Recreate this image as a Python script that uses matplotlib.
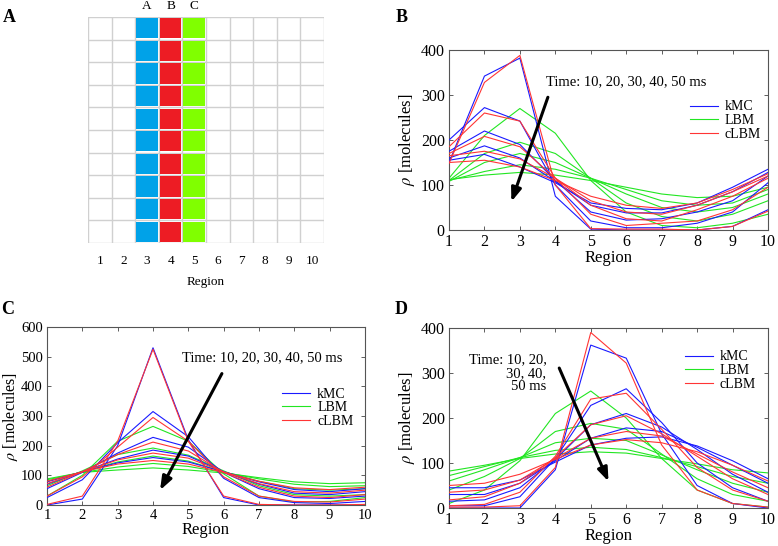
import numpy as np
import matplotlib
matplotlib.use("Agg")
import matplotlib.pyplot as plt
from matplotlib.patches import Rectangle

plt.rcParams['font.family'] = ['Liberation Serif', 'DejaVu Serif']
plt.rcParams['mathtext.fontset'] = 'stix'

regions = list(range(1, 11))
times = [10, 20, 30, 40, 50]
methods = ["kMC", "LBM", "cLBM"]
colors = {"kMC": "#1a1aff", "LBM": "#22e622", "cLBM": "#ff3535"}

# Panel B (source region A)
B_kMC = [
    [150, 342, 382, 75, 2, 0, 0, 0, 8, 45],
    [200, 272, 242, 100, 20, 5, 5, 15, 40, 105],
    [175, 220, 190, 110, 40, 22, 25, 40, 65, 120],
    [160, 187, 160, 108, 55, 38, 38, 55, 85, 128],
    [155, 168, 140, 105, 60, 48, 45, 60, 95, 135],
]
B_LBM = [
    [115, 210, 270, 215, 110, 40, 10, 5, 15, 35],
    [110, 170, 195, 170, 115, 60, 30, 20, 35, 65],
    [108, 150, 170, 150, 115, 80, 50, 40, 50, 80],
    [110, 130, 145, 135, 115, 90, 65, 55, 60, 90],
    [112, 122, 128, 122, 110, 95, 80, 72, 75, 95],
]
B_cLBM = [
    [148, 328, 388, 100, 3, 2, 2, 0, 8, 42],
    [185, 260, 242, 115, 35, 10, 15, 20, 45, 95],
    [170, 208, 185, 115, 55, 25, 20, 45, 75, 115],
    [165, 175, 158, 115, 65, 40, 35, 55, 85, 120],
    [150, 155, 140, 110, 75, 55, 48, 60, 90, 125],
]

# Panel C (source region B)
C_kMC = [
    [0, 20, 200, 530, 220, 25, 0, 0, 0, 0],
    [25, 85, 210, 315, 230, 90, 25, 8, 5, 12],
    [55, 110, 175, 228, 195, 110, 55, 25, 22, 30],
    [70, 112, 155, 185, 165, 112, 70, 40, 35, 45],
    [78, 112, 142, 160, 145, 112, 78, 52, 45, 55],
]
C_LBM = [
    [30, 100, 215, 265, 215, 105, 30, 10, 12, 25],
    [65, 115, 170, 192, 168, 115, 65, 35, 30, 35],
    [80, 112, 145, 165, 148, 112, 80, 55, 50, 55],
    [85, 110, 128, 140, 130, 110, 88, 70, 62, 65],
    [88, 110, 118, 125, 118, 108, 92, 78, 72, 75],
]
C_cLBM = [
    [2, 30, 215, 525, 215, 30, 2, 0, 0, 2],
    [30, 95, 195, 295, 215, 95, 30, 12, 10, 20],
    [60, 112, 170, 212, 182, 110, 60, 30, 25, 35],
    [72, 112, 152, 175, 158, 112, 72, 45, 40, 50],
    [80, 112, 138, 150, 138, 110, 80, 58, 52, 60],
]

# Panel D (source region C)
D_kMC = [
    [0, 0, 0, 85, 362, 333, 165, 50, 10, 0],
    [5, 5, 25, 110, 228, 265, 190, 100, 45, 15],
    [15, 18, 45, 108, 185, 210, 180, 130, 75, 35],
    [30, 30, 55, 105, 155, 178, 170, 135, 95, 55],
    [45, 45, 62, 102, 140, 155, 158, 138, 105, 65],
]
D_LBM = [
    [10, 40, 105, 210, 260, 200, 110, 40, 10, 2],
    [40, 70, 110, 170, 188, 175, 120, 65, 30, 15],
    [60, 85, 112, 145, 155, 150, 118, 85, 55, 35],
    [72, 92, 112, 128, 135, 130, 112, 92, 70, 55],
    [82, 95, 110, 120, 125, 122, 110, 98, 85, 78],
]
D_cLBM = [
    [2, 2, 5, 90, 390, 322, 140, 40, 10, 2],
    [5, 8, 35, 115, 242, 255, 175, 90, 40, 15],
    [18, 25, 55, 112, 185, 205, 165, 115, 65, 30],
    [35, 40, 62, 110, 155, 170, 160, 120, 80, 45],
    [50, 55, 75, 108, 140, 152, 145, 125, 95, 60],
]

grid_cols = 10
grid_rows = 10
source_cols = [3, 4, 5]
source_labels = ["A", "B", "C"]
source_colors = ["#00a2e8", "#ed1c24", "#80ff00"]

W, H = 778, 546
fig = plt.figure(figsize=(W / 100, H / 100), dpi=100)


def rect(l, t, r, b):
    return [l / W, 1 - b / H, (r - l) / W, (b - t) / H]

# ---------- Panel A ----------
axA = fig.add_axes(rect(88, 17, 324, 243))
axA.set_xlim(0.5, grid_cols + 0.5)
axA.set_ylim(0, grid_rows)
for i in range(grid_cols + 1):
    axA.axvline(0.5 + i, color="#d0d0d0", lw=1.0, zorder=1)
for j in range(grid_rows + 1):
    axA.axhline(j, color="#d0d0d0", lw=1.0, zorder=1)
for col, c in zip(source_cols, source_colors):
    for j in range(grid_rows):
        axA.add_patch(Rectangle((col - 0.5 + 0.04, j + 0.05), 0.92, 0.9,
                                facecolor=c, edgecolor="none", zorder=2))
for col, lab in zip(source_cols, source_labels):
    axA.text(col, grid_rows + 0.2, lab, ha="center", va="bottom", fontsize=9.5)
for s in axA.spines.values():
    s.set_visible(False)
axA.set_xticks(regions)
axA.set_xticklabels([str(r) for r in regions], fontsize=9.5)
axA.tick_params(axis="x", length=0, pad=9)
axA.set_yticks([])
axA.set_xlabel("Region", fontsize=9.5, labelpad=6)


def panel(box, kmc, lbm, clbm, ymax, yticks, arrow, text, text_kw, leg_anchor,
          tsize=11.5, lsize=12, lpad=3):
    ax = fig.add_axes(rect(*box))
    for k in range(len(times)):
        ax.plot(regions, kmc[k], color=colors["kMC"], lw=0.8, label="kMC" if k == 0 else None, zorder=3)
        ax.plot(regions, lbm[k], color=colors["LBM"], lw=0.8, label="LBM" if k == 0 else None, zorder=2)
        ax.plot(regions, clbm[k], color=colors["cLBM"], lw=0.8, label="cLBM" if k == 0 else None, zorder=4)
    ax.set_xlim(1, 10)
    ax.set_ylim(0, ymax)
    ax.set_xticks(regions)
    ax.set_yticks(yticks)
    ax.tick_params(direction="in", top=True, right=True, labelsize=tsize,
                   length=3, width=0.6, color="#444444", pad=3)
    for s in ax.spines.values():
        s.set_color("#555555")
        s.set_linewidth(0.8)
    ax.set_xlabel("Region", fontsize=12, labelpad=0)
    ax.set_ylabel(r"$\rho$ [molecules]", fontsize=lsize, labelpad=lpad)
    ax.annotate("", xy=arrow[1], xytext=arrow[0],
                arrowprops=dict(arrowstyle="-|>,head_length=0.8,head_width=0.3",
                                color="black", lw=2.2, shrinkA=0, shrinkB=0), zorder=6)
    ax.text(*text[0], text[1], fontsize=10.5, zorder=7, **text_kw)
    ax.legend(loc="upper left", bbox_to_anchor=leg_anchor, frameon=False,
              fontsize=10, borderpad=0, handlelength=2.0, handletextpad=0.5,
              labelspacing=0.05, borderaxespad=0)
    return ax

panel((449, 50, 768, 230), B_kMC, B_LBM, B_cLBM, 400, [0, 100, 200, 300, 400],
      ((3.79, 295), (2.76, 63)), ((3.75, 330), "Time: 10, 20, 30, 40, 50 ms"),
      dict(ha="left", va="center"), (0.755, 0.72))
panel((47, 327, 365, 505), C_kMC, C_LBM, C_cLBM, 600, [0, 100, 200, 300, 400, 500, 600],
      ((5.95, 443), (4.2, 50)), ((4.82, 497), "Time: 10, 20, 30, 40, 50 ms"),
      dict(ha="left", va="center"), (0.74, 0.66), tsize=10.5, lsize=11.5, lpad=1)
panel((449, 328, 768, 508), D_kMC, D_LBM, D_cLBM, 400, [0, 100, 200, 300, 400],
      ((4.11, 311), (5.5, 59)), ((3.75, 344), "Time: 10, 20,\n30, 40,\n50 ms"),
      dict(ha="right", va="top", linespacing=1.05), (0.74, 0.875))

# Panel letters
for lab, (x, y) in zip(["A", "B", "C", "D"], [(9, 18), (402, 18), (8, 310), (401, 310)]):
    fig.text(x / W, 1 - y / H, lab, fontsize=13, fontweight="bold", ha="center", va="center")

fig.savefig("out.png", dpi=100)
